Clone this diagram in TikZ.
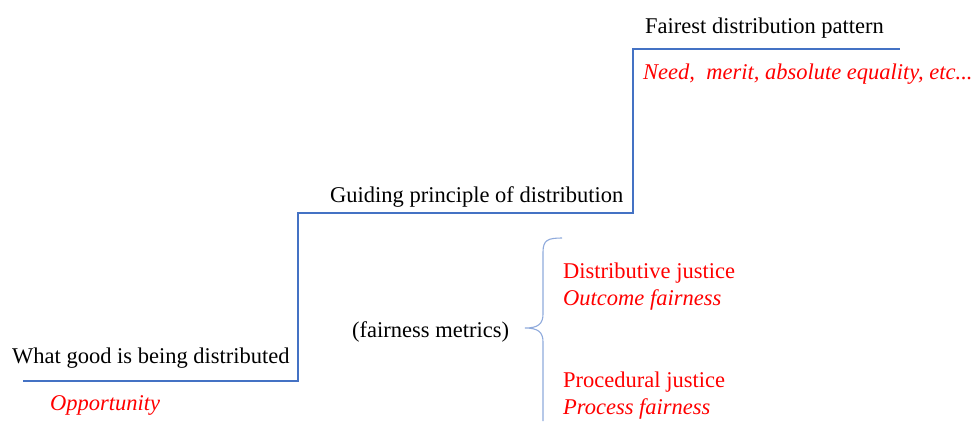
\documentclass[tikz,border=0pt]{standalone}
\usepackage{fontspec}
\setmainfont{Liberation Serif}
\begin{document}
\begin{tikzpicture}[x=1pt,y=-1pt,
  label/.style={anchor=base west,inner sep=0pt,font=\fontsize{22.5}{26}\selectfont},
  note/.style={label,text={rgb,255:red,255;green,0;blue,0}},
  stair/.style={draw={rgb,255:red,68;green,114;blue,196},line width=1.1pt},
  bracket/.style={draw={rgb,255:red,143;green,170;blue,220},line width=1.1pt}]
\useasboundingbox (0,0) rectangle (973,421);

% staircase corner points
\coordinate (s0) at (23,381);
\coordinate (s1) at (298,381);
\coordinate (s2) at (298,213);
\coordinate (s3) at (633,213);
\coordinate (s4) at (633,49);
\coordinate (s5) at (900,49);
\draw[stair] (s0) -- (s1) -- (s2) -- (s3) -- (s4) -- (s5);

% step labels
\node[label] (good) at (12,363) {What good is being distributed};
\node[note] (opp) at (50,410) {\itshape Opportunity};
\node[label] (guide) at (330,202) {Guiding principle of distribution};
\node[label] (fair) at (645,33) {Fairest distribution pattern};
\node[note] (need) at (643,79) {\itshape Need,\ \ merit, absolute equality, etc...};

% metrics and the brace
\node[label] (metrics) at (352,337) {(fairness metrics)};
\coordinate (btop) at (562,238);
\coordinate (btip) at (525,328);
\coordinate (bend) at (543,421);
\draw[bracket] (btop) .. controls (548,238) and (543,240) .. (543,252)
  -- (543,314) .. controls (543,324) and (538,328) .. (btip)
  .. controls (538,328) and (543,332) .. (543,342) -- (bend);

\node[note] (dj) at (563,278) {Distributive justice};
\node[note] (of) at (563,305) {\itshape Outcome fairness};
\node[note] (pj) at (563,387) {Procedural justice};
\node[note] (pf) at (563,414) {\itshape Process fairness};
\end{tikzpicture}
\end{document}
